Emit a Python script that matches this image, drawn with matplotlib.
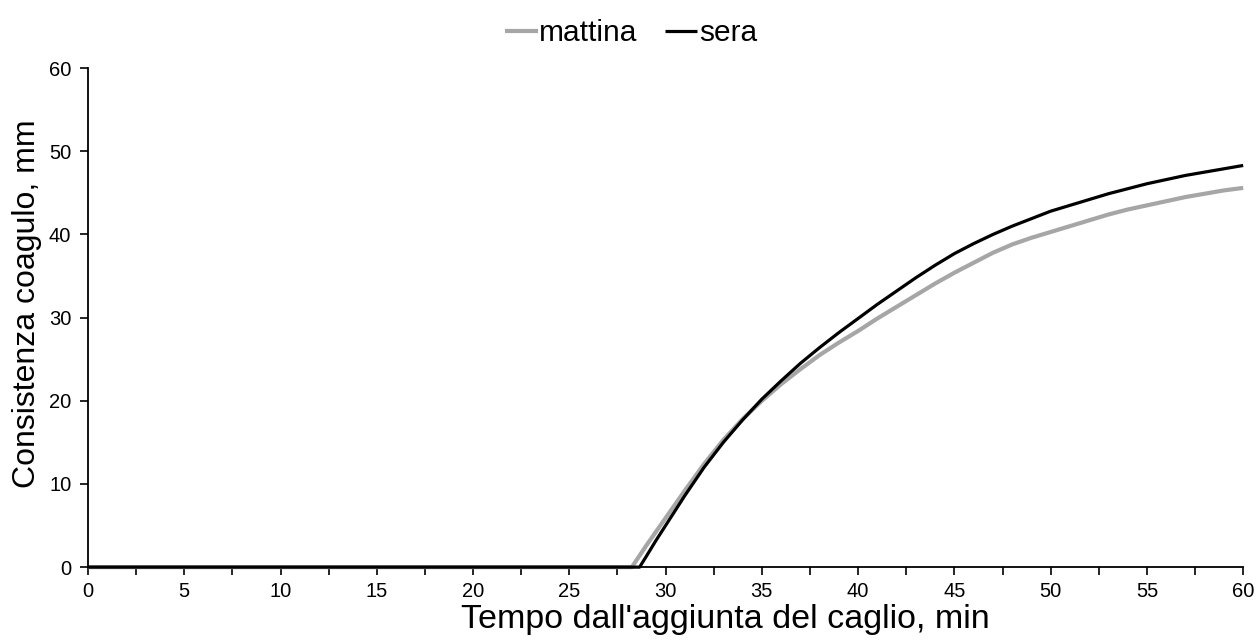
import numpy as np
import matplotlib.pyplot as plt

plt.rcParams['font.family'] = ['Liberation Sans', 'DejaVu Sans']

# tempo (min) e consistenza (mm)
x_mattina = [0, 28.25, 29, 30, 31, 32, 33, 34, 35, 36, 37, 38, 39, 40, 41, 42, 43, 44,
             45, 46, 47, 48, 49, 50, 51, 52, 53, 54, 55, 56, 57, 58, 59, 60]
y_mattina = [0, 0, 2.6, 5.9, 9.2, 12.4, 15.3, 17.8, 20.0, 22.0, 23.8, 25.5, 27.0, 28.4,
             29.9, 31.3, 32.7, 34.1, 35.4, 36.6, 37.8, 38.8, 39.6, 40.3, 41.0, 41.7,
             42.4, 43.0, 43.5, 44.0, 44.5, 44.9, 45.3, 45.6]

x_sera = [0, 28.65, 29, 29.5, 30, 31, 32, 33, 34, 35, 36, 37, 38, 39, 40, 41, 42, 43, 44,
          45, 46, 47, 48, 49, 50, 51, 52, 53, 54, 55, 56, 57, 58, 59, 60]
y_sera = [0, 0, 1.3, 3.2, 5.0, 8.6, 12.0, 15.0, 17.7, 20.2, 22.4, 24.5, 26.4, 28.2, 29.9,
          31.6, 33.2, 34.8, 36.3, 37.7, 38.9, 40.0, 41.0, 41.9, 42.8, 43.5, 44.2, 44.9,
          45.5, 46.1, 46.6, 47.1, 47.5, 47.9, 48.3]

fig = plt.figure(figsize=(12.57, 6.43), dpi=100)
ax = fig.add_axes([0.07, 0.118, 0.919, 0.776])

ax.plot(x_mattina, y_mattina, color='#a6a6a6', lw=3.0, label='mattina', clip_on=False,
        solid_capstyle='butt', solid_joinstyle='round')
ax.plot(x_sera, y_sera, color='black', lw=2.3, label='sera', clip_on=False,
        solid_capstyle='butt', solid_joinstyle='round')

ax.set_xlim(0, 60)
ax.set_ylim(0, 60)
ax.set_xticks(np.arange(0, 61, 2.5), minor=True)
ax.set_xticks(np.arange(0, 61, 5))
ax.set_yticks(np.arange(0, 61, 10))
ax.tick_params(axis='both', which='both', direction='out', length=6, width=1.2,
               labelsize=14.5, color='black')
ax.tick_params(axis='x', pad=5)
ax.tick_params(axis='y', pad=6)

for s in ['top', 'right']:
    ax.spines[s].set_visible(False)
for s in ['left', 'bottom']:
    ax.spines[s].set_linewidth(1.3)

ax.set_xlabel("Tempo dall'aggiunta del caglio, min", fontsize=24.5)
ax.xaxis.set_label_coords(0.552, -0.073)
ax.set_ylabel("Consistenza coagulo, mm", fontsize=23)
ax.yaxis.set_label_coords(-0.040, 0.527)

fig.legend(loc='upper center', bbox_to_anchor=(0.502, 1.012), ncol=2, frameon=False,
           fontsize=21.5, handlelength=1.1, handletextpad=0.05, columnspacing=0.9)

fig.savefig('out.png', dpi=100)
